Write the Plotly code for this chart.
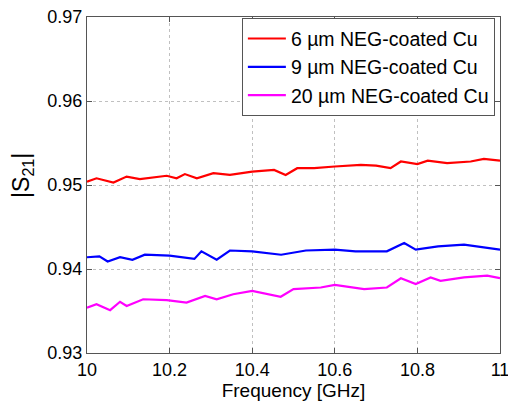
import plotly.graph_objects as go

# Frequency [GHz] and |S21|
freq_6um = [10.000, 10.023, 10.064, 10.096, 10.128, 10.160, 10.193, 10.217, 10.237, 10.266,
            10.306, 10.346, 10.400, 10.453, 10.481, 10.509, 10.550, 10.600, 10.663, 10.700,
            10.735, 10.760, 10.800, 10.825, 10.872, 10.929, 10.961, 11.000]
s21_6um = [0.9504, 0.9508, 0.9503, 0.9510, 0.9507, 0.9509, 0.9511, 0.9508, 0.9513, 0.9508,
           0.9514, 0.9512, 0.9516, 0.9518, 0.9512, 0.9520, 0.9520, 0.9522, 0.9524, 0.9523,
           0.9520, 0.9528, 0.9525, 0.9529, 0.9526, 0.9528, 0.9531, 0.9529]

freq_9um = [10.000, 10.030, 10.050, 10.080, 10.110, 10.140, 10.200, 10.260, 10.277, 10.314,
            10.346, 10.400, 10.470, 10.530, 10.600, 10.650, 10.726, 10.768, 10.796, 10.850,
            10.913, 10.960, 11.000]
s21_9um = [0.9414, 0.9415, 0.9409, 0.9414, 0.9411, 0.9417, 0.9416, 0.9412, 0.9421, 0.9411,
           0.9422, 0.9421, 0.9417, 0.9422, 0.9423, 0.9421, 0.9421, 0.9431, 0.9423, 0.9427,
           0.9429, 0.9426, 0.9423]

freq_20um = [10.000, 10.023, 10.056, 10.080, 10.096, 10.136, 10.193, 10.241, 10.286, 10.314,
             10.354, 10.400, 10.469, 10.500, 10.566, 10.600, 10.671, 10.726, 10.760, 10.796,
             10.832, 10.856, 10.913, 10.969, 11.000]
s21_20um = [0.9354, 0.9358, 0.9351, 0.9361, 0.9356, 0.9364, 0.9363, 0.9360, 0.9368, 0.9364,
            0.9370, 0.9374, 0.9367, 0.9376, 0.9378, 0.9381, 0.9376, 0.9378, 0.9389, 0.9382,
            0.9390, 0.9386, 0.9390, 0.9392, 0.9389]

x_ticks = [10, 10.2, 10.4, 10.6, 10.8, 11]
x_tick_labels = ["10", "10.2", "10.4", "10.6", "10.8", "11"]
y_ticks = [0.93, 0.94, 0.95, 0.96, 0.97]
y_tick_labels = ["0.93", "0.94", "0.95", "0.96", "0.97"]

series = [
    ("6 \u00b5m NEG-coated Cu", freq_6um, s21_6um, "#ff0000"),
    ("9 \u00b5m NEG-coated Cu", freq_9um, s21_9um, "#0000ff"),
    ("20 \u00b5m NEG-coated Cu", freq_20um, s21_20um, "#ff00ff"),
]

fig = go.Figure()
for i, (name, xs, ys, col) in enumerate(series):
    fig.add_trace(go.Scatter(x=xs, y=ys, mode="lines", name=name, legendgroup=f"g{i}",
                             line=dict(color=col, width=2.2)))

font_family = "Liberation Sans, Arial, Helvetica, sans-serif"
axis_common = dict(
    showline=True, linecolor="#555555", linewidth=1, mirror="ticks",
    ticks="inside", ticklen=5, tickcolor="#555555",
    showgrid=True, gridcolor="#c0c0c0", griddash="dot", gridwidth=1,
    zeroline=False, tickfont=dict(size=18, color="black", family=font_family),
    ticklabeloverflow="allow", automargin=False,
)

fig.update_layout(
    width=508, height=405,
    margin=dict(l=87, r=8, t=17, b=52, autoexpand=False),
    paper_bgcolor="white", plot_bgcolor="white",
    font=dict(family=font_family, color="black"),
    xaxis=dict(range=[10, 11.00001], tickvals=x_ticks, ticktext=x_tick_labels,
               title=dict(text="Frequency [GHz]", font=dict(size=19), standoff=4),
               **axis_common),
    yaxis=dict(range=[0.93, 0.97], tickvals=y_ticks, ticktext=y_tick_labels,
               **axis_common),
    legend=dict(x=0.375, y=0.996, xanchor="left", yanchor="top",
                bgcolor="white", bordercolor="#555555", borderwidth=1,
                font=dict(size=19.5, color="black"), tracegroupgap=0,
                traceorder="grouped", itemwidth=38),
    showlegend=True,
    annotations=[dict(text="|S<sub>21</sub>|", textangle=-90, xref="paper", yref="paper",
                      x=-0.155, y=0.53, xanchor="center", yanchor="middle",
                      showarrow=False, font=dict(size=23, color="black"))],
)

fig.write_html("out.html")
